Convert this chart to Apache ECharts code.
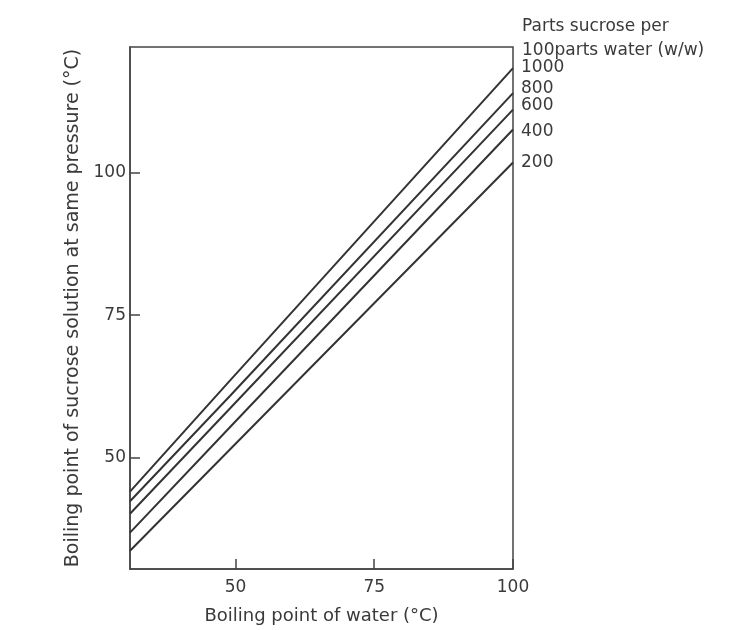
<!DOCTYPE html>
<html>
<head>
<meta charset="utf-8">
<script src="https://cdn.jsdelivr.net/npm/echarts@6/dist/echarts.min.js"></script>
<style>html,body{margin:0;padding:0;background:#fff;}#c{width:733px;height:630px;}</style>
</head>
<body>
<div id="c"></div>
<script>
// Boiling point of water (°C)
var waterBP = [31, 49, 100];
// Boiling point of sucrose solution (°C), by parts sucrose per 100 parts water
var s1000 = [44.0, 63.5, 118.4];
var s800  = [42.3, 60.8, 114.0];
var s600  = [40.1, 58.6, 111.1];
var s400  = [36.8, 55.3, 107.6];
var s200  = [33.6, 51.4, 101.8];
var seriesNames = ['1000', '800', '600', '400', '200'];
var xTicks = [50, 75, 100];
var yTicks = [50, 75, 100];

var allSeries = [s1000, s800, s600, s400, s200];
var labelOffsets = [[0, 0], [0, -5], [0, -4], [0, 2], [0, 0]];
var font = '"DejaVu Sans", sans-serif';
var ink = '#3a3a3a';

var chart = echarts.init(document.getElementById('c'), null, {renderer: 'canvas'});
chart.setOption({
  backgroundColor: '#ffffff',
  animation: false,
  title: {
    text: 'Parts sucrose per\n100parts water (w/w)',
    left: 517, top: 10,
    textStyle: {fontFamily: font, fontSize: 17, fontWeight: 'normal', color: ink, lineHeight: 24}
  },
  grid: {left: 130, right: 220, top: 47, bottom: 60, show: true, borderColor: '#444', borderWidth: 1.5, backgroundColor: 'transparent'},
  xAxis: {
    type: 'value', min: 31, max: 100,
    name: 'Boiling point of water (°C)', nameLocation: 'middle', nameGap: 38,
    nameTextStyle: {fontFamily: font, fontSize: 18, color: ink},
    axisLine: {show: true, lineStyle: {color: '#444', width: 1.5}},
    axisTick: {show: true, inside: true, length: 10, customValues: xTicks, lineStyle: {color: '#444', width: 1.5}},
    axisLabel: {customValues: xTicks, fontFamily: font, fontSize: 17, color: ink, margin: 10},
    splitLine: {show: false}
  },
  yAxis: {
    type: 'value', min: 30.4, max: 122.1,
    name: 'Boiling point of sucrose solution at same pressure (°C)', nameLocation: 'middle', nameGap: 35,
    nameTextStyle: {fontFamily: font, fontSize: 19, color: ink},
    axisLine: {show: true, lineStyle: {color: '#444', width: 1.5}},
    axisTick: {show: true, inside: true, length: 10, customValues: yTicks, lineStyle: {color: '#444', width: 1.5}},
    axisLabel: {customValues: yTicks, fontFamily: font, fontSize: 17, color: ink, margin: 4},
    splitLine: {show: false}
  },
  series: allSeries.map(function (arr, i) {
    return {
      name: seriesNames[i],
      type: 'line',
      data: waterBP.map(function (x, j) { return [x, arr[j]]; }),
      showSymbol: false,
      lineStyle: {color: '#333', width: 2},
      endLabel: {show: true, formatter: '{a}', distance: 8, offset: labelOffsets[i], fontFamily: font, fontSize: 17, color: ink}
    };
  })
});
</script>
</body>
</html>
